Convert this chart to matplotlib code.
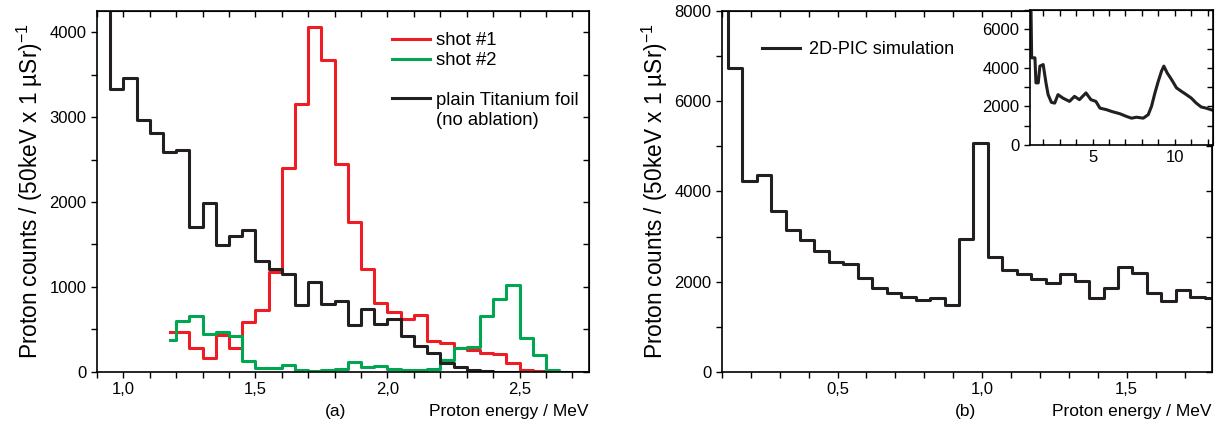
import numpy as np
import matplotlib
matplotlib.use('Agg')
import matplotlib.pyplot as plt
from matplotlib.ticker import MultipleLocator, FuncFormatter
from matplotlib.lines import Line2D

plt.rcParams['font.family'] = ['Liberation Sans', 'DejaVu Sans']
plt.rcParams['mathtext.fontset'] = 'custom'
plt.rcParams['mathtext.rm'] = 'Liberation Sans'
plt.rcParams['font.size'] = 12

#--- (a) measured spectra, bin centres (MeV) and counts per 50 keV bin ---#
titan_E = np.round(np.arange(0.925, 2.78, 0.05), 3)
titan_N = [6000, 3330, 3460, 2970, 2810, 2590, 2610, 1700, 1990, 1490,
           1600, 1670, 1300, 1210, 1150, 790, 1060, 805, 840, 553,
           735, 565, 625, 420, 306, 227, 105, 55, 25, 8,
           0, 0, 0, 0, 0, 0, 0, 0]

shot1_E = np.round(np.arange(1.175, 2.63, 0.05), 3)
shot1_N = [474, 474, 285, 165, 430, 283, 592, 729, 1180, 2404,
           3153, 4055, 3671, 2443, 1768, 1208, 810, 710, 620, 671,
           365, 345, 278, 259, 220, 215, 110, 28, 10, 0]

shot2_E = np.round(np.arange(1.175, 2.68, 0.05), 3)
shot2_N = [376, 605, 655, 450, 467, 424, 125, 48, 48, 78,
           20, 15, 28, 38, 116, 55, 72, 35, 24, 24,
           31, 141, 278, 298, 659, 860, 1018, 400, 200, 24, 5]

#--- (b) 2D-PIC simulation ---#
pic_E = np.round(np.arange(0.095, 1.80, 0.05), 3)
pic_N = [12000, 6740, 4240, 4370, 3570, 3140, 2920, 2690, 2440, 2400,
         2090, 1865, 1755, 1665, 1590, 1645, 1490, 2940, 5080, 2550,
         2255, 2175, 2070, 1975, 2180, 2025, 1630, 1850, 2330, 2195,
         1740, 1570, 1810, 1665, 1630]

# inset : full energy range
ins_E = [1.2, 1.23, 1.3, 1.5, 1.56, 1.7, 1.8, 2.0, 2.17, 2.3, 2.5, 2.7, 2.9,
         3.2, 3.6, 3.9, 4.2, 4.6, 4.9, 5.2, 5.45, 5.85, 6.15, 6.66, 7.06,
         7.37, 7.67, 8.08, 8.38, 8.58, 8.79, 8.99, 9.19, 9.33, 9.53, 9.8,
         10.1, 10.4, 10.7, 11.0, 11.3, 11.6, 11.9, 12.3]
ins_N = [9000, 9000, 4520, 4520, 3220, 3220, 4090, 4170, 3220, 2610, 2210,
         2170, 2610, 2430, 2260, 2520, 2350, 2700, 2350, 2260, 1910, 1830,
         1740, 1620, 1480, 1390, 1440, 1390, 1570, 2000, 2700, 3300, 3830,
         4090, 3740, 3390, 2960, 2780, 2610, 2430, 2170, 1970, 1910, 1800]

RED = '#ee1c24'
GREEN = '#00a650'
BLACK = '#231f20'
ylab = r'Proton counts / (50keV x 1 µSr)$^{-1}$'
virgule = FuncFormatter(lambda v, p: ('%.1f' % v).replace('.', ','))


def Axes_Style(ax, xmaj, xmin, ymaj, ymin, lw=1.2):
  for s in ax.spines.values():
    s.set_linewidth(lw)
  ax.xaxis.set_major_locator(MultipleLocator(xmaj))
  ax.xaxis.set_minor_locator(MultipleLocator(xmin))
  ax.yaxis.set_major_locator(MultipleLocator(ymaj))
  ax.yaxis.set_minor_locator(MultipleLocator(ymin))
  ax.tick_params(which='both', direction='out', length=4, width=1, labelsize=12)
  # ticks of top and right sides point inward
  top = ax.secondary_xaxis('top')
  top.xaxis.set_major_locator(MultipleLocator(xmaj))
  top.xaxis.set_minor_locator(MultipleLocator(xmin))
  top.tick_params(which='both', direction='in', length=4, width=1, labeltop=False)
  right = ax.secondary_yaxis('right')
  right.yaxis.set_major_locator(MultipleLocator(ymaj))
  right.yaxis.set_minor_locator(MultipleLocator(ymin))
  right.tick_params(which='both', direction='in', length=4, width=1, labelright=False)
  return


fig = plt.figure(figsize=(12.23, 4.32), dpi=100)
axA = fig.add_axes([0.0793, 0.139, 0.4023, 0.836])
axB = fig.add_axes([0.5903, 0.139, 0.4007, 0.836])
axI = fig.add_axes([0.8422, 0.6644, 0.1494, 0.3125])

#-------------------------------- (a) ---------------------------------------#
lS1, = axA.plot(shot1_E, shot1_N, drawstyle='steps-mid', color=RED, lw=2.2)
lS2, = axA.plot(shot2_E, shot2_N, drawstyle='steps-mid', color=GREEN, lw=2.2)
lTi, = axA.plot(titan_E, titan_N, drawstyle='steps-mid', color=BLACK, lw=2.2)
axA.set_xlim(0.9, 2.763)
axA.set_ylim(0, 4250)
Axes_Style(axA, 0.5, 0.1, 1000, 500)
axA.xaxis.set_major_formatter(virgule)
axA.set_ylabel(ylab, labelpad=3, fontsize=16.3)
axA.set_xlabel('Proton energy / MeV', loc='right', labelpad=5, fontsize=12.5)
axA.text(0.485, -0.09, '(a)', transform=axA.transAxes, ha='center', va='top',
         fontsize=12.5)
blank = Line2D([], [], color='none')
axA.legend([lS1, lS2, blank, lTi, blank],
           ['shot #1', 'shot #2', ' ', 'plain Titanium foil', '(no ablation)'],
           loc='upper left', bbox_to_anchor=(0.599, 0.94), frameon=False,
           borderpad=0, borderaxespad=0, handlelength=2.1, handletextpad=0.3,
           labelspacing=0.15, fontsize=13.3)

#-------------------------------- (b) ---------------------------------------#
lPic, = axB.plot(pic_E, pic_N, drawstyle='steps-mid', color=BLACK, lw=2.2)
axB.set_xlim(0.1, 1.795)
axB.set_ylim(0, 8000)
Axes_Style(axB, 0.5, 0.1, 2000, 1000)
axB.xaxis.set_major_formatter(virgule)
axB.set_ylabel(ylab, labelpad=3, fontsize=16.3)
axB.set_xlabel('Proton energy / MeV', loc='right', labelpad=5, fontsize=12.5)
axB.text(0.498, -0.09, '(b)', transform=axB.transAxes, ha='center', va='top',
         fontsize=12.5)
axB.legend([lPic], ['2D-PIC simulation'], loc='upper left',
           bbox_to_anchor=(0.081, 0.915), frameon=False, borderpad=0,
           borderaxespad=0, handlelength=2.1, handletextpad=0.55, fontsize=13)

#------------------------------- inset --------------------------------------#
axI.plot(ins_E, ins_N, color=BLACK, lw=2.2)
axI.set_xlim(1.2, 12.3)
axI.set_ylim(0, 7000)
Axes_Style(axI, 5, 1, 2000, 1000)
axI.tick_params(axis='x', which='both', direction='in')
axI.set_facecolor('white')

fig.savefig('out.png', dpi=100)
